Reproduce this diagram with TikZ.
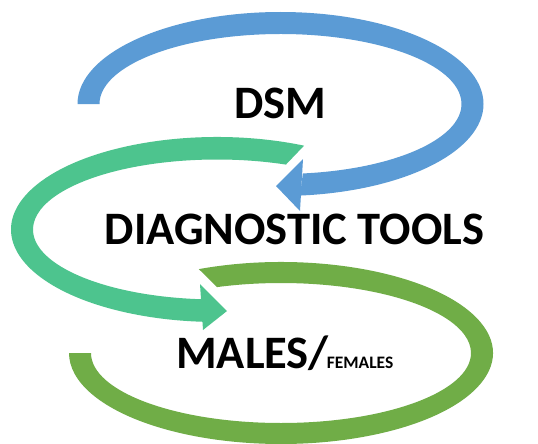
\documentclass[tikz,border=0pt]{standalone}
\usepackage{fontspec}
\setmainfont{Carlito}
\definecolor{cblue}{RGB}{91,155,213}
\definecolor{cteal}{RGB}{77,196,142}
\definecolor{colive}{RGB}{112,173,71}
\begin{document}
\begin{tikzpicture}[x=1pt,y=1pt,
  lbl/.style={anchor=base,inner sep=0pt,font=\fontsize{46.5}{50}\selectfont\bfseries}]
\useasboundingbox (0,0) rectangle (538,-444);
\fill[white] (0,0) rectangle (538,-444);
% blue arrow
\coordinate (cb) at (280.5,-104);
\fill[cblue] ([shift={(cb)}]180:203 and 92) arc[start angle=180,end angle=-84.5,x radius=203,y radius=92]
  -- ([shift={(cb)}]-82.9:181 and 70) arc[start angle=-82.9,end angle=180,x radius=181,y radius=70] -- cycle;
\fill[cblue] (276,-186) -- (303,-159) -- (300,-211) -- cycle;
% teal arrow
\coordinate (ct) at (217,-229.5);
\fill[cteal] ([shift={(ct)}]65:206 and 92.5) arc[start angle=65,end angle=266.1,x radius=206,y radius=92.5]
  -- ([shift={(ct)}]265.3:184 and 70) arc[start angle=265.3,end angle=68,x radius=184,y radius=70] -- cycle;
\fill[cteal] (227,-311) -- (200,-284) -- (203,-330) -- cycle;
% olive band
\coordinate (co) at (281,-353);
\fill[colive] ([shift={(co)}]112.8:212 and 91) arc[start angle=112.8,end angle=-180,x radius=212,y radius=91]
  -- ([shift={(co)}]-180:190 and 70) arc[start angle=-180,end angle=109.7,x radius=190,y radius=70] -- cycle;
% labels
\node[lbl] (dsm) at (280.5,-118) {DSM};
\node[lbl] (diag) at (294.5,-244) {DIAGNOSTIC TOOLS};
\node[lbl,anchor=base west] (males) at (176,-368) {MALES/\kern-2pt{\fontsize{17.5}{20}\selectfont FEMALES}};
\end{tikzpicture}
\end{document}
